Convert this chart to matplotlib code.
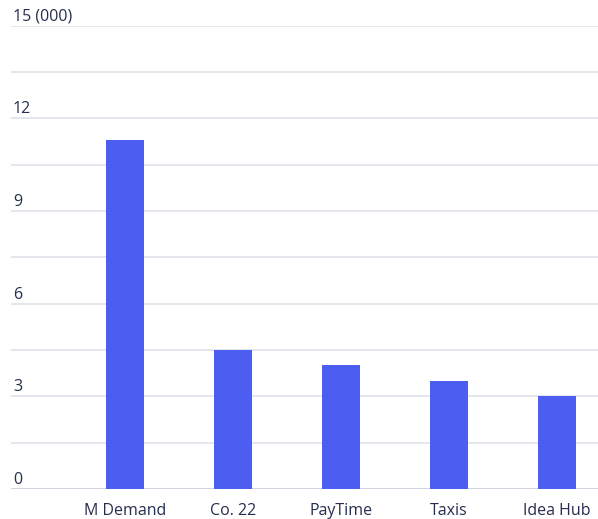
import matplotlib
matplotlib.use("Agg")
import matplotlib.pyplot as plt
from matplotlib.transforms import blended_transform_factory, offset_copy

categories = ["M Demand", "Co. 22", "PayTime", "Taxis", "Idea Hub"]
values = [11.3, 4.5, 4.0, 3.5, 3.0]          # thousands
tick_values = [0, 3, 6, 9, 12, 15]
tick_labels = ["0", "3", "6", "9", "12", "15 (000)"]
grid_values = [1.5 * i for i in range(11)]

W, H = 598, 519
fig = plt.figure(figsize=(W / 100, H / 100), dpi=100)
ax = fig.add_axes([11 / W, 30 / H, 587 / W, 463.5 / H])

text_color = "#252e4e"
bar_color = "#4c5ef2"
font = "Open Sans"
fsize = 11.5

x = list(range(len(categories)))
ax.bar(x, values, width=0.352, color=bar_color, zorder=3)

ax.set_xlim(-1.056, 4.38)
ax.set_ylim(0, 15)

for g in grid_values:
    ax.axhline(g, color="#c9cdd9" if g == 0 else "#dfe2ea", lw=1.2, zorder=1)

for s in ax.spines.values():
    s.set_visible(False)
ax.set_yticks([])
ax.set_xticks(x)
ax.set_xticklabels(categories, fontsize=fsize, color=text_color, fontfamily=font)
ax.tick_params(axis="x", length=0, pad=10)

trans = offset_copy(blended_transform_factory(ax.transAxes, ax.transData),
                    fig=fig, x=2, y=1, units="dots")
for v, lab in zip(tick_values, tick_labels):
    ax.text(0, v, lab, transform=trans, ha="left", va="bottom",
            fontsize=fsize, color=text_color, fontfamily=font)

fig.savefig("out.png", dpi=100)
